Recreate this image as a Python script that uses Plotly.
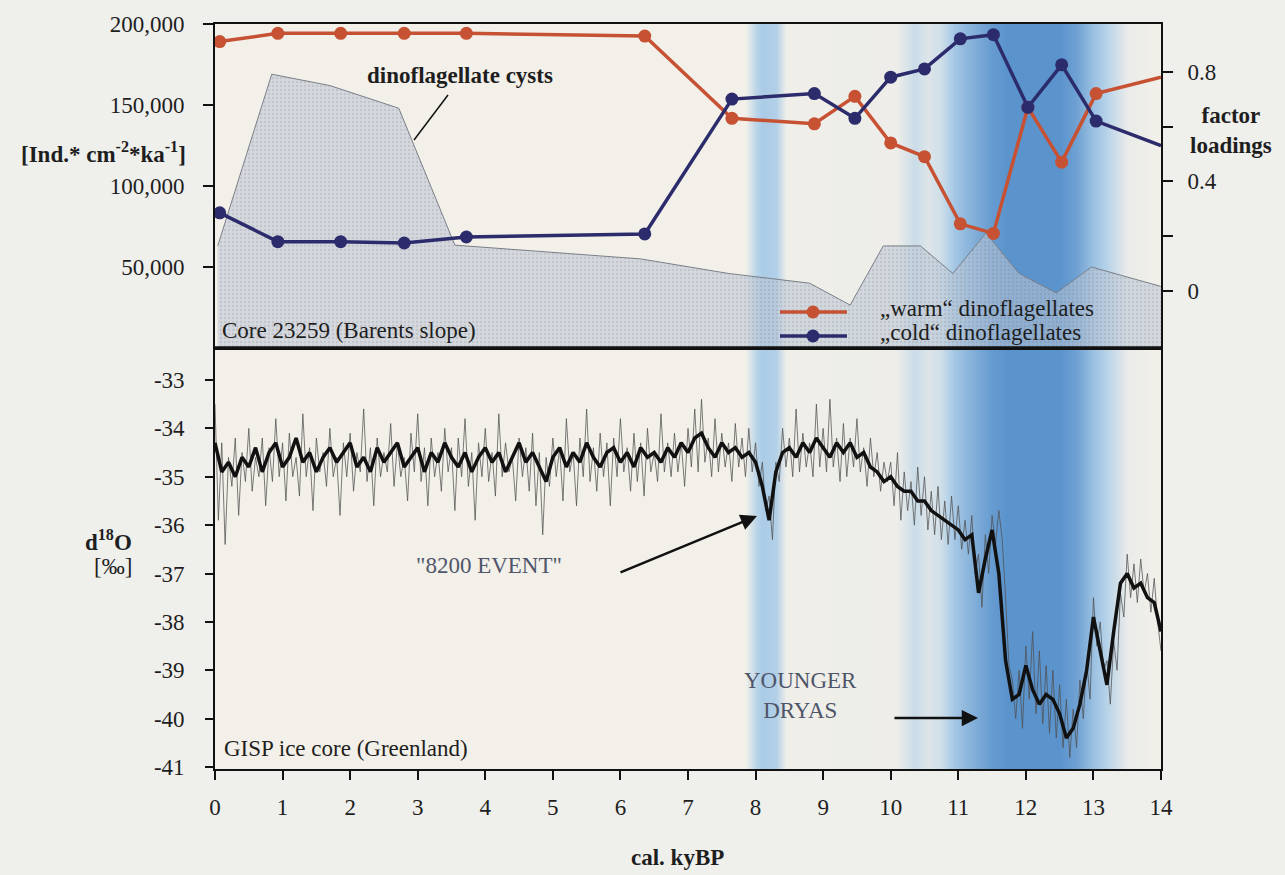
import plotly.graph_objects as go

# ---------------- data ----------------
# Core 23259 (Barents slope): factor loadings of dinoflagellate assemblages
factor_age = [0.07, 0.93, 1.86, 2.80, 3.72, 6.36, 7.65, 8.87, 9.47, 10.0, 10.5,
              11.03, 11.52, 12.03, 12.53, 13.04, 14.0]
warm_loading = [0.91, 0.94, 0.94, 0.94, 0.94, 0.93, 0.63, 0.61, 0.71, 0.54, 0.49,
                0.245, 0.21, 0.67, 0.47, 0.72, 0.78]
cold_loading = [0.285, 0.18, 0.18, 0.175, 0.197, 0.208, 0.70, 0.72, 0.63, 0.78, 0.81,
                0.92, 0.935, 0.67, 0.825, 0.62, 0.53]

# dinoflagellate cyst flux [Ind. cm-2 ka-1]
cyst_age = [0.04, 0.84, 1.70, 2.72, 3.55, 6.30, 7.60, 8.80, 9.40, 9.89, 10.44,
            10.92, 11.41, 11.90, 12.45, 12.97, 14.0]
cyst_flux = [63000, 169000, 162000, 148000, 63500, 55000, 46000, 40000, 26500, 63000,
             63000, 46000, 71000, 46000, 34000, 50000, 38000]

# GISP ice core d18O, smoothed curve (0.1 ky steps, 0 -> 14 ky)
smooth_age = [round(i * 0.1, 2) for i in range(141)]
smooth_d18o = [
    -34.3, -34.9, -34.7, -35.0, -34.6, -34.8, -34.4, -34.9, -34.5, -34.3,
    -34.8, -34.6, -34.2, -34.7, -34.5, -34.9, -34.6, -34.4, -34.7, -34.5,
    -34.3, -34.8, -34.6, -34.9, -34.4, -34.7, -34.5, -34.3, -34.8, -34.6,
    -34.4, -34.9, -34.5, -34.7, -34.3, -34.6, -34.8, -34.5, -34.9, -34.6,
    -34.4, -34.7, -34.5, -34.9, -34.6, -34.3, -34.7, -34.5, -34.8, -35.1,
    -34.6, -34.4, -34.8, -34.5, -34.7, -34.3, -34.6, -34.8, -34.5, -34.4,
    -34.7, -34.5, -34.8, -34.4, -34.6, -34.5, -34.7, -34.4, -34.6, -34.3,
    -34.5, -34.2, -34.1, -34.4, -34.6, -34.3, -34.5, -34.4, -34.6, -34.5,
    -34.7, -35.2, -35.9, -34.9, -34.5, -34.4, -34.6, -34.3, -34.5, -34.2,
    -34.4, -34.6, -34.3, -34.5, -34.3, -34.6, -34.5, -34.8, -34.9, -35.1,
    -35.0, -35.2, -35.3, -35.3, -35.5, -35.5, -35.7, -35.8, -35.9, -36.0,
    -36.1, -36.3, -36.2, -37.4, -36.7, -36.1, -37.0, -38.8, -39.6, -39.5,
    -38.9, -39.4, -39.7, -39.5, -39.6, -39.9, -40.4, -40.2, -39.7, -39.0,
    -37.9, -38.6, -39.3, -38.2, -37.2, -37.0, -37.3, -37.2, -37.5, -37.6,
    -38.2,
]

# GISP ice core d18O, raw values (0.05 ky steps, 0 -> 14 ky)
raw_age = [round(i * 0.05, 2) for i in range(281)]
raw_d18o = [
    -33.5, -35.9, -34.3, -36.4, -34.6, -35.2, -34.2, -35.8, -34.5, -35.1, -34.0, -35.3, -34.6, -35.0, -34.2, -35.6, -34.4, -35.1, -33.8, -35.0,
    -34.3, -35.5, -34.1, -35.0, -34.6, -35.4, -33.7, -35.0, -34.4, -35.7, -34.2, -34.9, -34.5, -35.2, -34.0, -35.0, -34.6, -35.8, -34.3, -35.0,
    -34.1, -35.3, -34.5, -34.9, -33.6, -35.1, -34.4, -35.6, -34.2, -35.0, -34.5, -34.9, -33.9, -35.2, -34.3, -35.0, -34.6, -35.5, -34.1, -34.9,
    -33.7, -35.1, -34.4, -35.6, -34.2, -35.0, -34.5, -35.3, -34.0, -34.9, -34.4, -35.7, -34.2, -35.0, -33.8, -35.2, -34.5, -35.9, -34.3, -35.0,
    -34.0, -35.1, -34.5, -35.4, -33.7, -35.0, -34.3, -34.9, -34.6, -35.5, -34.2, -35.0, -34.4, -35.3, -34.1, -35.6, -34.5, -36.2, -34.6, -35.2,
    -34.2, -35.0, -34.4, -35.5, -33.8, -34.9, -34.5, -35.6, -34.2, -35.0, -33.6, -35.1, -34.4, -35.3, -34.1, -35.0, -34.3, -35.6, -34.2, -35.0,
    -33.8, -34.9, -34.4, -35.3, -34.1, -35.1, -34.3, -35.4, -34.0, -34.9, -34.5, -35.1, -33.7, -34.9, -34.3, -35.0, -34.1, -34.9, -34.3, -35.2,
    -34.0, -34.8, -33.6, -34.9, -33.4, -34.7, -34.2, -35.0, -33.8, -34.9, -34.1, -34.8, -34.3, -35.1, -33.9, -34.8, -34.2, -35.0, -34.0, -34.9,
    -34.3, -35.2, -34.7, -35.7, -35.4, -36.3, -34.7, -35.1, -34.0, -34.8, -34.2, -35.0, -33.6, -34.9, -34.1, -34.8, -34.3, -35.0, -33.5, -34.8,
    -34.0, -34.9, -33.4, -34.8, -34.2, -35.1, -33.9, -35.0, -34.2, -34.8, -33.8, -34.9, -34.4, -35.2, -34.2, -35.0, -34.5, -35.3, -34.7, -35.1,
    -34.7, -35.6, -34.5, -35.9, -34.9, -35.7, -35.1, -36.0, -34.8, -35.8, -35.0, -36.1, -35.3, -36.2, -35.2, -36.3, -35.5, -36.4, -35.4, -36.3,
    -35.6, -36.5, -35.9, -36.6, -35.8, -37.0, -36.6, -37.7, -36.2, -37.0, -35.8, -36.4, -35.7, -36.3, -37.5, -38.9, -39.2, -40.0, -39.0, -40.2,
    -38.5, -39.6, -38.2, -39.9, -38.6, -40.1, -38.9, -40.3, -39.0, -40.4, -39.3, -40.6, -39.6, -40.8, -39.8, -40.6, -39.2, -40.0, -38.8, -39.6,
    -37.5, -38.5, -38.0, -39.0, -38.8, -39.7, -38.4, -39.0, -37.4, -37.9, -36.6, -37.5, -36.8, -37.6, -36.7, -37.4, -37.0, -37.8, -37.1, -38.0,
    -38.6,
]

# cold-period shading intensity (0 = none, 1 = strongest)
band_age = [0, 7.85, 8.0, 8.1, 8.3, 8.45, 10.1, 10.35, 10.55, 10.75, 10.95, 11.2,
            11.5, 11.7, 12.5, 12.75, 13.0, 13.3, 13.5, 14]
band_level = [0, 0, 0.3, 0.4, 0.35, 0.02, 0.03, 0.22, 0.12, 0.2, 0.45, 0.65,
              0.85, 0.92, 0.92, 0.78, 0.5, 0.22, 0.05, 0]

x_ticks = list(range(0, 15))
flux_ticks = [50000, 100000, 150000, 200000]
flux_labels = ["50,000", "100,000", "150,000", "200,000"]
loading_ticks = [0, 0.2, 0.4, 0.6, 0.8]
loading_labels = ["0", "", "0.4", "", "0.8"]
d18o_ticks = [-33, -34, -35, -36, -37, -38, -39, -40, -41]
d18o_labels = ["-33", "-34", "-35", "-36", "-37", "-38", "-39", "-40", "-41"]

# ---------------- layout geometry (pixels) ----------------
W, H = 1285, 875
ML, MR, MT, MB = 215, 124, 24, 106
PW, PH = W - ML - MR, H - MT - MB
SPLIT_PX = 348  # boundary between panels


def px(xp):
    return (xp - ML) / PW


def py(yp):
    return (H - MB - yp) / PH


split = py(SPLIT_PX)

SERIF = "Liberation Serif, Times New Roman, serif"
RED = "#c65233"
NAVY = "#2c2c6c"
TXT = "#1e1e1e"
NOTE = "#50566a"

fig = go.Figure()

band_scale = [[0, "#f3f0e9"], [0.35, "#b2d0e8"], [1, "#4f8bc9"]]
for xa, ya, yr in [("x", "y", [-41.04, -32.34]), ("x2", "y2", [0, 200000])]:
    fig.add_trace(go.Heatmap(x=band_age, y=yr, z=[band_level, band_level], zsmooth="best",
                             colorscale=band_scale, zmin=0, zmax=1, showscale=False,
                             hoverinfo="skip", xaxis=xa, yaxis=ya))

# cyst flux area
fig.add_trace(go.Scatter(x=cyst_age, y=cyst_flux, mode="lines", fill="tozeroy",
                         fillcolor="rgba(188,198,212,0.55)",
                         fillpattern=dict(shape=".", fgcolor="rgba(105,110,120,0.35)",
                                          size=4, solidity=0.3, fillmode="overlay"),
                         line=dict(color="#7a7f88", width=1),
                         xaxis="x2", yaxis="y2", showlegend=False, hoverinfo="skip"))

n = len(factor_age)
msizes = [13] * (n - 1) + [0]
fig.add_trace(go.Scatter(x=factor_age, y=warm_loading, mode="lines+markers",
                         line=dict(color=RED, width=3.5),
                         marker=dict(color=RED, size=msizes, opacity=1, line=dict(width=0)),
                         xaxis="x2", yaxis="y3", showlegend=False))
fig.add_trace(go.Scatter(x=factor_age, y=cold_loading, mode="lines+markers",
                         line=dict(color=NAVY, width=3.5),
                         marker=dict(color=NAVY, size=msizes, opacity=1, line=dict(width=0)),
                         xaxis="x2", yaxis="y3", showlegend=False))

# ice core
fig.add_trace(go.Scatter(x=raw_age, y=raw_d18o, mode="lines",
                         line=dict(color="rgba(80,80,80,0.75)", width=1),
                         xaxis="x", yaxis="y", showlegend=False))
fig.add_trace(go.Scatter(x=smooth_age, y=smooth_d18o, mode="lines",
                         line=dict(color="#111111", width=3.5),
                         xaxis="x", yaxis="y", showlegend=False))

tickfont = dict(family=SERIF, size=23, color=TXT)
axis_common = dict(showline=True, linecolor="#111", linewidth=1.6, mirror=True,
                   showgrid=False, zeroline=False, tickcolor="#111", tickwidth=1.6)

fig.update_layout(
    width=W, height=H,
    margin=dict(l=ML, r=MR, t=MT, b=MB),
    paper_bgcolor="#efefec", plot_bgcolor="#f3f0e9",
    font=dict(family=SERIF, size=23, color=TXT),
    showlegend=False,
    xaxis=dict(domain=[0, 1], range=[0, 14], anchor="y", tickvals=x_ticks,
               ticks="outside", ticklen=9, tickfont=tickfont, ticklabelstandoff=8,
               **axis_common),
    xaxis2=dict(domain=[0, 1], range=[0, 14], anchor="y2", matches="x",
                showticklabels=False, ticks="", **axis_common),
    yaxis=dict(domain=[0, split], range=[-41.04, -32.34], anchor="x",
               tickvals=d18o_ticks, ticktext=d18o_labels, ticks="outside", ticklen=8,
               tickfont=tickfont, ticklabelstandoff=16, **axis_common),
    yaxis2=dict(domain=[split, 1], range=[0, 200000], anchor="x2",
                tickvals=flux_ticks, ticktext=flux_labels, ticks="outside", ticklen=10,
                tickfont=tickfont, ticklabelstandoff=14, **axis_common),
    yaxis3=dict(range=[-0.208, 0.974], overlaying="y2", anchor="x2", side="right",
                tickvals=loading_ticks, ticktext=loading_labels, ticks="outside",
                ticklen=10, tickfont=tickfont, ticklabelstandoff=10,
                showline=True, linecolor="#111", linewidth=1.6, showgrid=False,
                zeroline=False, tickcolor="#111", tickwidth=1.6),
)

shapes = [
    # thick separator between panels
    dict(type="line", xref="paper", yref="paper", x0=0, x1=1, y0=split, y1=split,
         line=dict(color="#111", width=3.5)),
    # leader line to the cyst curve
    dict(type="line", xref="paper", yref="paper", x0=px(448), y0=py(95), x1=px(414), y1=py(140),
         line=dict(color="#111", width=1.5)),
    # legend symbols
    dict(type="line", xref="paper", yref="paper", x0=px(780), x1=px(847), y0=py(312), y1=py(312),
         line=dict(color=RED, width=3.5)),
    dict(type="line", xref="paper", yref="paper", x0=px(780), x1=px(847), y0=py(336), y1=py(336),
         line=dict(color=NAVY, width=3.5)),
    dict(type="circle", xref="paper", yref="paper", xsizemode="pixel", ysizemode="pixel",
         xanchor=px(813), yanchor=py(312), x0=-6.5, x1=6.5, y0=-6.5, y1=6.5,
         fillcolor=RED, line=dict(width=0)),
    dict(type="circle", xref="paper", yref="paper", xsizemode="pixel", ysizemode="pixel",
         xanchor=px(813), yanchor=py(336), x0=-6.5, x1=6.5, y0=-6.5, y1=6.5,
         fillcolor=NAVY, line=dict(width=0)),
]
fig.update_layout(shapes=shapes)

ann = [
    dict(text="<b>dinoflagellate cysts</b>", x=px(460), y=py(75)),
    dict(text="<b>[Ind.* cm<sup>-2</sup>*ka<sup>-1</sup>]</b>", x=px(188), y=py(152), xanchor="right"),
    dict(text="Core 23259 (Barents slope)", x=px(220), y=py(330), xanchor="left"),
    dict(text="\u201ewarm\u201c dinoflagellates", x=px(878), y=py(308), xanchor="left"),
    dict(text="\u201ecold\u201c dinoflagellates", x=px(878), y=py(332), xanchor="left"),
    dict(text="<b>factor<br>loadings</b>", x=px(1231), y=py(130)),
    dict(text="<b>d<sup>18</sup>O</b>", x=px(108), y=py(540)),
    dict(text="[\u2030]", x=px(113), y=py(566)),
    dict(text="\"8200 EVENT\"", x=px(489), y=py(565), font=dict(color=NOTE, family=SERIF, size=23)),
    dict(text="YOUNGER<br>DRYAS", x=px(800), y=py(695), font=dict(color=NOTE, family=SERIF, size=23)),
    dict(text="GISP ice core (Greenland)", x=px(222), y=py(748), xanchor="left"),
    dict(text="<b>cal. kyBP</b>", x=px(677), y=py(857)),
]
annotations = []
for a in ann:
    d = dict(xref="paper", yref="paper", showarrow=False, xanchor="center", yanchor="middle",
             font=dict(family=SERIF, size=23, color=TXT))
    d.update(a)
    annotations.append(d)

# arrows
annotations.append(dict(xref="paper", yref="paper", x=px(757), y=py(516), ax=619 - 757, ay=573 - 516,
                        axref="pixel", ayref="pixel", text="", showarrow=True, arrowhead=2,
                        arrowsize=1.3, arrowwidth=2.5, arrowcolor="#111"))
annotations.append(dict(xref="paper", yref="paper", x=px(978), y=py(718), ax=893 - 978, ay=0,
                        axref="pixel", ayref="pixel", text="", showarrow=True, arrowhead=2,
                        arrowsize=1.3, arrowwidth=2.5, arrowcolor="#111"))
fig.update_layout(annotations=annotations)

fig.write_html("out.html")
